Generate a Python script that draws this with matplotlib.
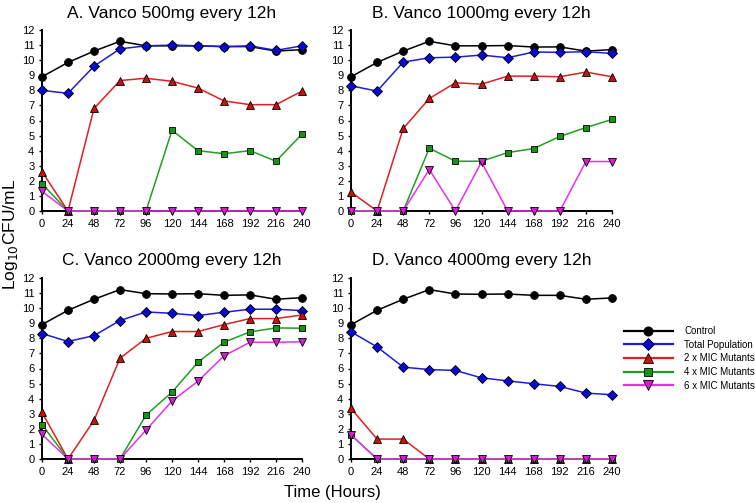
import numpy as np
import matplotlib
matplotlib.use("Agg")
import matplotlib.pyplot as plt
from matplotlib.lines import Line2D

plt.rcParams['font.family'] = ['Liberation Sans', 'DejaVu Sans']

hours = [0, 24, 48, 72, 96, 120, 144, 168, 192, 216, 240]

titles = ["A. Vanco 500mg every 12h", "B. Vanco 1000mg every 12h",
          "C. Vanco 2000mg every 12h", "D. Vanco 4000mg every 12h"]

series_names = ["Control", "Total Population", "2 x MIC Mutants",
                "4 x MIC Mutants", "6 x MIC Mutants"]

# panel A - 500 mg
a_control = [8.9, 9.85, 10.6, 11.25, 10.95, 10.95, 10.95, 10.9, 10.9, 10.6, 10.7]
a_total = [8.0, 7.8, 9.6, 10.75, 10.95, 11.0, 10.95, 10.9, 10.95, 10.65, 10.95]
a_mic2 = [2.6, 0, 6.8, 8.65, 8.8, 8.6, 8.15, 7.3, 7.05, 7.05, 7.95]
a_mic4 = [1.8, 0, 0, 0, 0, 5.35, 4.0, 3.8, 4.0, 3.3, 5.1]
a_mic6 = [1.3, 0, 0, 0, 0, 0, 0, 0, 0, 0, 0]

# panel B - 1000 mg
b_control = [8.9, 9.85, 10.6, 11.25, 10.95, 10.95, 10.97, 10.87, 10.88, 10.6, 10.7]
b_total = [8.3, 7.95, 9.87, 10.16, 10.2, 10.34, 10.16, 10.54, 10.52, 10.56, 10.45]
b_mic2 = [1.25, 0, 5.47, 7.46, 8.5, 8.41, 8.94, 8.94, 8.9, 9.21, 8.9]
b_mic4 = [0, 0, 0, 4.16, 3.3, 3.3, 3.87, 4.14, 4.94, 5.53, 6.07]
b_mic6 = [0, 0, 0, 2.75, 0, 3.25, 0, 0, 0, 3.28, 3.28]

# panel C - 2000 mg
c_control = [8.91, 9.86, 10.59, 11.23, 10.96, 10.94, 10.96, 10.85, 10.88, 10.59, 10.7]
c_total = [8.32, 7.79, 8.18, 9.18, 9.75, 9.66, 9.51, 9.73, 9.93, 9.93, 9.84]
c_mic2 = [3.09, 0, 2.56, 6.68, 8.0, 8.45, 8.45, 8.91, 9.31, 9.31, 9.55]
c_mic4 = [2.27, 0, 0, 0, 2.91, 4.43, 6.42, 7.74, 8.43, 8.69, 8.67]
c_mic6 = [1.63, 0, 0, 0, 1.92, 3.84, 5.16, 6.84, 7.74, 7.74, 7.77]

# panel D - 4000 mg
d_control = [8.9, 9.86, 10.59, 11.23, 10.94, 10.92, 10.94, 10.85, 10.85, 10.59, 10.68]
d_total = [8.43, 7.43, 6.09, 5.93, 5.87, 5.38, 5.18, 4.99, 4.81, 4.37, 4.26]
d_mic2 = [3.35, 1.32, 1.32, 0, 0, 0, 0, 0, 0, 0, 0]
d_mic4 = [1.6, 0, 0, 0, 0, 0, 0, 0, 0, 0, 0]
d_mic6 = [1.6, 0, 0, 0, 0, 0, 0, 0, 0, 0, 0]

panels = [
    [a_control, a_total, a_mic2, a_mic4, a_mic6],
    [b_control, b_total, b_mic2, b_mic4, b_mic6],
    [c_control, c_total, c_mic2, c_mic4, c_mic6],
    [d_control, d_total, d_mic2, d_mic4, d_mic6],
]

# line colour, marker face, marker, size
styles = [
    ("#000000", "#000000", "o", 5.6),
    ("#1c1ce0", "#0a0ad0", "D", 4.8),
    ("#e02020", "#cc1010", "^", 5.8),
    ("#20a020", "#149614", "s", 5.0),
    ("#e830e8", "#d020d0", "v", 5.8),
]

fig = plt.figure(figsize=(7.55, 5.03), dpi=100)

# axes boxes in pixels: left, right, top, bottom
boxes = [(42, 302, 30, 211), (351, 612, 30, 211),
         (42, 302, 278, 459), (351, 612, 278, 459)]

W, H = 755, 503
for i, (l, r, t, b) in enumerate(boxes):
    ax = fig.add_axes([l / W, 1 - b / H, (r - l) / W, (b - t) / H])
    for vals, (lc, fc, mk, ms) in zip(panels[i], styles):
        ax.plot(hours, vals, color=lc, lw=1.1, marker=mk, ms=ms,
                mfc=fc, mec="black", mew=0.6, clip_on=False, zorder=3)
    ax.set_xlim(0, 240)
    ax.set_ylim(0, 12)
    ax.set_xticks(hours)
    ax.set_yticks(range(0, 13))
    ax.tick_params(labelsize=8, length=2.5, width=1, pad=3, colors="black")
    for s in ["top", "right"]:
        ax.spines[s].set_visible(False)
    for s in ["left", "bottom"]:
        ax.spines[s].set_linewidth(1.4)
        ax.spines[s].set_zorder(2)
    ax.set_title(titles[i], fontsize=12.5, pad=9)

fig.text(0.014, 1 - 234 / H, "Log$_{10}$CFU/mL", rotation=90,
         ha="center", va="center", fontsize=12.5)
fig.text(332 / W, 1 - 492 / H, "Time (Hours)", ha="center", va="center",
         fontsize=12)

handles = [Line2D([], [], color=lc, lw=1.6, marker=mk, ms=ms + 1.0, mfc=fc,
                  mec="black", mew=0.6)
           for (lc, fc, mk, ms) in styles]
fig.legend(handles, series_names, loc="upper left",
           bbox_to_anchor=(624 / W, 1 - 326 / H), frameon=False,
           fontsize=7, handlelength=5.0, handletextpad=1.2,
           labelspacing=0.38, borderpad=0, borderaxespad=0)

fig.savefig("out.png", dpi=100)
